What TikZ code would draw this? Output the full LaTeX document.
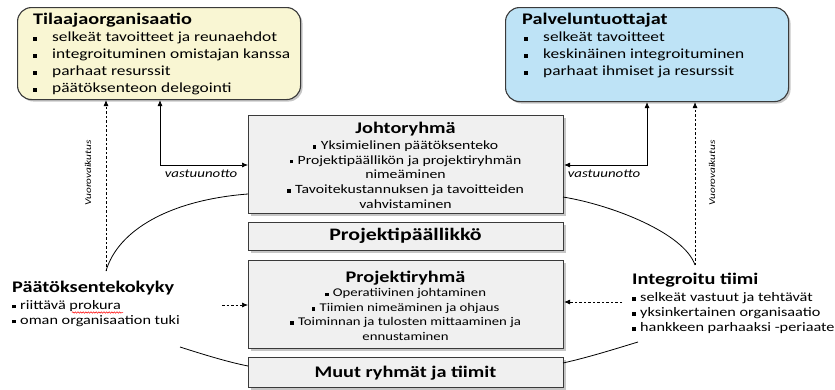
\documentclass[tikz,border=0pt]{standalone}
\usepackage{fontspec}
\setmainfont{Carlito}[FakeStretch=1.25]
\usetikzlibrary{arrows.meta,shadows,decorations.pathmorphing}
\definecolor{yelfill}{HTML}{F9F6D3}
\definecolor{blufill}{HTML}{BEE3F6}
\definecolor{grayfill}{HTML}{F0F0F0}
\definecolor{edgec}{HTML}{3A3A3A}
\newcommand{\sqb}{\rule[0.15ex]{3.6pt}{3.6pt}}
\newcommand{\bigitem}[1]{\makebox[19pt][l]{\sqb}#1}
\newcommand{\smitem}[1]{\makebox[8pt][l]{\sqb}#1}
\tikzset{
  frame/.style={draw=edgec, line width=1.1pt, anchor=north west, inner sep=0pt,
    drop shadow={opacity=0.45, shadow xshift=2pt, shadow yshift=-2pt}},
  roundframe/.style={frame, rounded corners=14pt},
  graybox/.style={frame, fill=grayfill, minimum width=315pt},
  bigtitle/.style={font=\bfseries\fontsize{16.2}{19}\selectfont, inner sep=0pt},
  midtitle/.style={font=\bfseries\fontsize{16.2}{19}\selectfont, inner sep=0pt},
  bigitems/.style={font=\fontsize{13.9}{17}\selectfont, align=left, inner sep=0pt, anchor=west},
  miditems/.style={font=\fontsize{12.6}{14.6}\selectfont, align=center, inner sep=0pt},
  sideitems/.style={font=\fontsize{13}{15}\selectfont, align=left, inner sep=0pt, anchor=west},
  lbl/.style={font=\itshape\fontsize{11.9}{13}\selectfont, inner sep=0pt},
  vlbl/.style={font=\itshape\fontsize{9}{11}\selectfont, inner sep=0pt, rotate=90},
  arr/.style={line width=0.7pt, -{Latex[length=6pt,width=5pt]}},
  darr/.style={arr, dash pattern=on 2.5pt off 2pt},
  curve/.style={line width=0.8pt},
}
\begin{document}
\begin{tikzpicture}[x=1pt,y=-1pt]
\useasboundingbox (0,0) rectangle (835,389);
% top boxes
\node[roundframe, fill=yelfill, minimum width=283pt, minimum height=92pt] (yel) at (17,7) {};
\node[roundframe, fill=blufill, minimum width=283pt, minimum height=94pt] (blu) at (505,7) {};
\node[bigtitle, anchor=west] (yelt) at (33,20) {Tilaajaorganisaatio};
\node[bigitems] (yeli) at (33,63.5) {\bigitem{selkeät tavoitteet ja reunaehdot}\\
  \bigitem{integroituminen omistajan kanssa}\\
  \bigitem{parhaat resurssit}\\
  \bigitem{päätöksenteon delegointi}};
\node[bigtitle, anchor=west] (blut) at (522,20) {Palveluntuottajat};
\node[bigitems] (blui) at (524,55) {\bigitem{selkeät tavoitteet}\\
  \bigitem{keskinäinen integroituminen}\\
  \bigitem{parhaat ihmiset ja resurssit}};
% central stack
\node[graybox, minimum height=98pt] (joh) at (248,115) {};
\node[graybox, minimum height=28pt] (ppl) at (248,222) {};
\node[graybox, minimum height=88pt] (pry) at (248,260) {};
\node[graybox, minimum height=30pt] (muu) at (248,357) {};
\node[midtitle] (joht) at (405.5,129) {Johtoryhmä};
\node[miditems] (johi) at (405.5,174.5) {\smitem{Yksimielinen päätöksenteko}\\
  \smitem{Projektipäällikön ja projektiryhmän}\\
  nimeäminen\\
  \smitem{Tavoitekustannuksen ja tavoitteiden}\\
  vahvistaminen};
\node[midtitle, font=\bfseries\fontsize{17.5}{20}\selectfont] (pplt) at (405.5,236) {Projektipäällikkö};
\node[midtitle] (pryt) at (405.5,278) {Projektiryhmä};
\node[miditems, font=\fontsize{11.8}{14.4}\selectfont] (pryi) at (405.5,314.5) {\smitem{Operatiivinen johtaminen}\\
  \smitem{Tiimien nimeäminen ja ohjaus}\\
  \smitem{Toiminnan ja tulosten mittaaminen ja}\\
  ennustaminen};
\node[midtitle] (muut) at (405.5,373) {Muut ryhmät ja tiimit};
% side texts
\node[bigtitle, anchor=west] (pkt) at (12,288) {Päätöksentekokyky};
\node[sideitems] (pki) at (12,313.5) {\smitem{riittävä prokura}\\
  \smitem{oman organisaation tuki}};
\node[bigtitle, anchor=west] (itt) at (632,280) {Integroitu tiimi};
\node[sideitems] (iti) at (632,313) {\smitem{selkeät vastuut ja tehtävät}\\
  \smitem{yksinkertainen organisaatio}\\
  \smitem{hankkeen parhaaksi -periaate}};
\draw[red, line width=0.5pt, decorate, decoration={snake, amplitude=0.7pt, segment length=2.6pt}] (72,312.5) -- (123,312.5);
% connectors left
\coordinate (lc) at (160,165);
\draw[arr, {Latex[length=6pt,width=5pt]}-{Latex[length=6pt,width=5pt]}] (lc |- yel.south) -- (lc) -- (lc -| joh.west);
\node[lbl] (lvl) at (201,174) {vastuunotto};
\coordinate (lv) at (106,271);
\draw[darr] (lv) -- (lv |- yel.south);
\node[vlbl] (lvv) at (88,173) {Vuorovaikutus};
\coordinate (lj) at (248,194);
\draw[curve] (lv) .. controls (118,230) and (170,200) .. (lj);
\coordinate (lb) at (180,347);
\coordinate (lm) at (248,366);
\draw[curve] (lb) .. controls (205,355) and (228,362) .. (lm);
\coordinate (lp) at (222,305);
\draw[darr] (lp) -- (lp -| pry.west);
% connectors right
\coordinate (rc) at (647,165);
\draw[arr, {Latex[length=6pt,width=5pt]}-{Latex[length=6pt,width=5pt]}] (rc |- blu.south) -- (rc) -- (rc -| joh.east);
\node[lbl] (rvl) at (604,174) {vastuunotto};
\coordinate (rv) at (695,265);
\draw[darr] (rv) -- (rv |- blu.south);
\node[vlbl] (rvv) at (712,173) {Vuorovaikutus};
\coordinate (rj) at (563,197);
\draw[curve] (rj) .. controls (612,205) and (684,233) .. (rv);
\coordinate (rb) at (638,342);
\coordinate (rm) at (563,363);
\draw[curve] (rm) .. controls (590,357) and (618,348) .. (rb);
\coordinate (rp) at (622,302);
\draw[darr] (rp) -- (rp -| pry.east);
\end{tikzpicture}
\end{document}
